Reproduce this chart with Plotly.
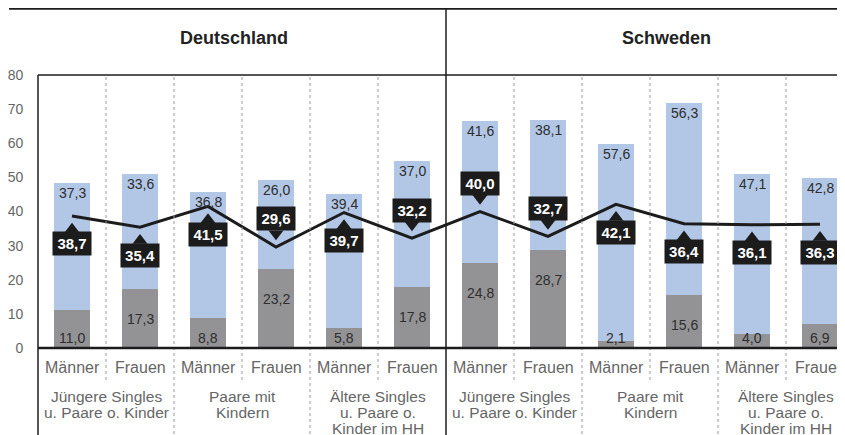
import plotly.graph_objects as go

# ---------------- data ----------------
countries = ["Deutschland", "Schweden"]
groups = [
    ["Jüngere Singles", "u. Paare o. Kinder"],
    ["Paare mit", "Kindern"],
    ["Ältere Singles", "u. Paare o.", "Kinder im HH"],
]
sexes = ["Männer", "Frauen"]

gray_values = [11.0, 17.3, 8.8, 23.2, 5.8, 17.8, 24.8, 28.7, 2.1, 15.6, 4.0, 6.9]
blue_values = [37.3, 33.6, 36.8, 26.0, 39.4, 37.0, 41.6, 38.1, 57.6, 56.3, 47.1, 42.8]
line_values = [38.7, 35.4, 41.5, 29.6, 39.7, 32.2, 40.0, 32.7, 42.1, 36.4, 36.1, 36.3]
y_ticks = [0, 10, 20, 30, 40, 50, 60, 70, 80]

# ---------------- style ----------------
label_above = [False, False, False, True, False, True, True, True, False, False, False, False]
OFF = 8  # page body margin
W, H = 845 - OFF, 435 - OFF
ML, MT = 38 - OFF, 75 - OFF
MB = H - (348 - OFF)
PW = W - ML
PH = H - MT - MB
CAT_PX = 68.0
BLUE = "#b2c6e6"
GRAY = "#939395"
DARK = "#1c1c1c"
TXT_GRAY = "#666666"
VAL_TXT = "#2e2e2e"
FONT = "Liberation Sans, Arial, Helvetica, sans-serif"
BOX_W, BOX_H = 38, 23
BOX_OFF = 28       # px between line point and box centre
TRI_SIZE = 13      # marker size of the pointer triangle


def fmt(v):
    return f"{v:.1f}".replace(".", ",")


def px_x(p):
    # p given in page pixels
    return (p - OFF - ML) / PW


def px_y(p):
    return (H - MB - (p - OFF)) / PH


n = len(gray_values)
xs = list(range(n))
totals = [g + b for g, b in zip(gray_values, blue_values)]
px_per_unit = PH / 80.0

fig = go.Figure()
fig.add_trace(go.Bar(x=xs, y=gray_values, marker_color=GRAY, width=0.515,
                     marker_line_width=0, hoverinfo="skip"))
fig.add_trace(go.Bar(x=xs, y=blue_values, marker_color=BLUE, width=0.515,
                     marker_line_width=0, hoverinfo="skip"))
fig.add_trace(go.Scatter(x=xs, y=line_values, mode="lines",
                         line=dict(color=DARK, width=3), hoverinfo="skip"))

# pointer triangles attached to the value boxes
tri_center_px = BOX_OFF - BOX_H / 2 - TRI_SIZE / 4
tri_y = [v + (tri_center_px / px_per_unit if up else -tri_center_px / px_per_unit)
         for v, up in zip(line_values, label_above)]
tri_sym = ["triangle-down" if up else "triangle-up" for up in label_above]
fig.add_trace(go.Scatter(x=xs, y=tri_y, mode="markers",
                         marker=dict(symbol=tri_sym, size=TRI_SIZE, color=DARK,
                                     line=dict(width=0)),
                         hoverinfo="skip", cliponaxis=False))

ann = []
# blue segment labels
for i in xs:
    ann.append(dict(x=i, y=totals[i], xref="x", yref="y", text=fmt(blue_values[i]),
                    showarrow=False, yanchor="top", yshift=0,
                    font=dict(size=14, color=VAL_TXT, family=FONT)))
# gray segment labels
for i in xs:
    yc = max(gray_values[i] - 30 / px_per_unit, 2.8)
    ann.append(dict(x=i, y=yc, xref="x", yref="y", text=fmt(gray_values[i]),
                    showarrow=False, yanchor="middle",
                    font=dict(size=14, color=VAL_TXT, family=FONT)))
# line labels (boxes)
for i in xs:
    shift = BOX_OFF if label_above[i] else -BOX_OFF
    ann.append(dict(x=i, y=line_values[i], xref="x", yref="y", yshift=shift,
                    text="<b>" + fmt(line_values[i]) + "</b>", showarrow=False,
                    xanchor="center", yanchor="middle",
                    bgcolor=DARK, width=BOX_W, height=BOX_H, borderpad=0,
                    font=dict(size=15, color="white", family=FONT)))
# sex labels
for i in xs:
    ann.append(dict(x=i, y=0, xref="x", yref="paper", text=sexes[i % 2],
                    showarrow=False, yanchor="middle", yshift=-19.5,
                    font=dict(size=16, color=TXT_GRAY, family=FONT)))
# group labels
for c in range(len(countries)):
    for g, lines in enumerate(groups):
        center = c * 6 + g * 2 + 0.5
        for k, line in enumerate(lines):
            ann.append(dict(x=center, y=0, xref="x", yref="paper", text=line,
                            showarrow=False, yanchor="middle", yshift=-(48.5 + 16 * k),
                            font=dict(size=15.5, color=TXT_GRAY, family=FONT)))
# country headers
header_px = [234, 666]
for c, name in enumerate(countries):
    ann.append(dict(x=px_x(header_px[c]), y=px_y(38), xref="paper", yref="paper",
                    text="<b>" + name + "</b>", showarrow=False,
                    xanchor="center", yanchor="middle",
                    font=dict(size=18, color="#222222", family=FONT)))

shapes = []
# dotted separators
for k in range(n - 1):
    xpos = k + 0.5
    if k == 5:
        continue
    inner = (k % 2 == 0)
    y_end = px_y(380) if inner else px_y(440)
    shapes.append(dict(type="line", xref="x", yref="paper", x0=xpos, x1=xpos,
                       y0=y_end, y1=1, line=dict(color="#9a9a9a", width=1, dash="dot")))
# country separator
shapes.append(dict(type="line", xref="x", yref="paper", x0=5.5, x1=5.5,
                   y0=px_y(440), y1=px_y(8), line=dict(color=DARK, width=1.5)))
# left axis line
shapes.append(dict(type="line", xref="paper", yref="paper", x0=0, x1=0,
                   y0=px_y(440), y1=1, line=dict(color=DARK, width=1.5)))
# top border
shapes.append(dict(type="line", xref="paper", yref="paper", x0=px_x(9), x1=1,
                   y0=px_y(8.8), y1=px_y(8.8), line=dict(color=DARK, width=1.8)))
# plot top line
shapes.append(dict(type="line", xref="paper", yref="paper", x0=0, x1=1,
                   y0=1, y1=1, line=dict(color=DARK, width=1.5)))
# x axis line
shapes.append(dict(type="line", xref="paper", yref="paper", x0=0, x1=1,
                   y0=0, y1=0, line=dict(color=DARK, width=2.5)))

fig.update_layout(
    width=W, height=H,
    margin=dict(l=ML, r=0, t=MT, b=MB, pad=0),
    barmode="stack",
    showlegend=False,
    plot_bgcolor="white", paper_bgcolor="white",
    font=dict(family=FONT),
    annotations=ann,
    shapes=shapes,
    xaxis=dict(range=[-0.5, -0.5 + PW / CAT_PX], showticklabels=False, showgrid=False,
               zeroline=False, showline=False, ticks="", fixedrange=True),
    yaxis=dict(range=[0, 80], tickvals=y_ticks, ticktext=[str(t) for t in y_ticks],
               showgrid=False, zeroline=False, showline=False, ticks="outside",
               ticklen=11, tickcolor="rgba(0,0,0,0)",
               tickfont=dict(size=14, color=TXT_GRAY, family=FONT), fixedrange=True),
)

fig.write_html("out.html", config={"displayModeBar": False})
